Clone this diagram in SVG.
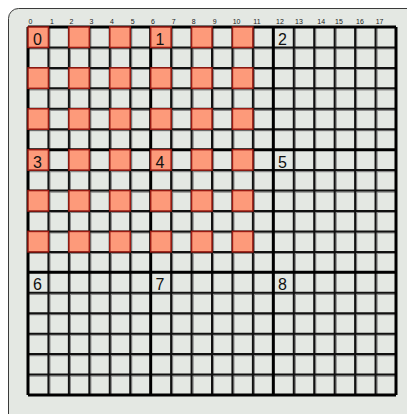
<svg xmlns="http://www.w3.org/2000/svg" width="407" height="414" viewBox="0 0 407 414">
<style>
.panel{fill:#e4e8e3;stroke:#3a3a3a;stroke-width:1}
.thin{stroke:#111;stroke-width:2;fill:none}
.thick{stroke:#000;stroke-width:3;fill:none}
.shadow{stroke:#8a8a8a;stroke-width:1.2;fill:none}
.hot{fill:#fd9a7a;stroke:#9a1a12;stroke-width:1.5}
.blabel{font-family:"Liberation Sans",Arial,sans-serif;font-size:16px;fill:#111}
.clabel{font-family:"Liberation Sans",Arial,sans-serif;font-size:7px;fill:#222}
</style>
<defs>
<rect id="cell" class="hot" width="20.44" height="20.44"/>
</defs>
<rect x="0" y="0" width="407" height="414" fill="#ffffff"/>
<rect class="panel" x="8.5" y="8.5" width="430" height="430" rx="10"/>
<g id="column-labels">
<text class="clabel" x="28.5" y="24">0</text>
<text class="clabel" x="50" y="24">1</text>
<text class="clabel" x="69.5" y="24">2</text>
<text class="clabel" x="89.5" y="24">3</text>
<text class="clabel" x="110" y="24">4</text>
<text class="clabel" x="130.7" y="24">5</text>
<text class="clabel" x="151" y="24">6</text>
<text class="clabel" x="171.7" y="24">7</text>
<text class="clabel" x="191.7" y="24">8</text>
<text class="clabel" x="212.7" y="24">9</text>
<text class="clabel" x="232.7" y="24">10</text>
<text class="clabel" x="253.3" y="24">11</text>
<text class="clabel" x="276" y="24">12</text>
<text class="clabel" x="295" y="24">13</text>
<text class="clabel" x="317.3" y="24">14</text>
<text class="clabel" x="335" y="24">15</text>
<text class="clabel" x="356" y="24">16</text>
<text class="clabel" x="375.7" y="24">17</text>
</g>
<g id="connectors">
<g id="grid-shadow" class="shadow">
<path d="M49.9 27V395M70.4 27V395M90.8 27V395M111.3 27V395M131.7 27V395M172.6 27V395M193.1 27V395M213.5 27V395M233.9 27V395M254.4 27V395M295.3 27V395M315.7 27V395M336.2 27V395M356.6 27V395M377.1 27V395"/>
<path d="M28 48.9H396M28 69.4H396M28 89.8H396M28 110.3H396M28 130.7H396M28 171.6H396M28 192.1H396M28 212.5H396M28 232.9H396M28 253.4H396M28 294.3H396M28 314.7H396M28 335.2H396M28 355.6H396M28 376.1H396"/>
</g>
<g id="grid-thin" class="thin">
<path d="M48.44 27V395M68.89 27V395M89.33 27V395M109.78 27V395M130.22 27V395M171.11 27V395M191.56 27V395M212 27V395M232.44 27V395M252.89 27V395M293.78 27V395M314.22 27V395M334.67 27V395M355.11 27V395M375.56 27V395"/>
<path d="M28 47.44H396M28 67.89H396M28 88.33H396M28 108.78H396M28 129.22H396M28 170.11H396M28 190.56H396M28 211H396M28 231.44H396M28 251.89H396M28 292.78H396M28 313.22H396M28 333.67H396M28 354.11H396M28 374.56H396"/>
</g>
<g id="grid-thick" class="thick">
<path d="M28 27V395M150.67 27V395M273.33 27V395M396 27V395"/>
<path d="M28 27H396M28 149.67H396M28 272.33H396M28 395H396"/>
</g>
</g>
<g id="block-0">
<use href="#cell" x="28" y="27"/><use href="#cell" x="68.89" y="27"/><use href="#cell" x="109.78" y="27"/>
<use href="#cell" x="28" y="67.89"/><use href="#cell" x="68.89" y="67.89"/><use href="#cell" x="109.78" y="67.89"/>
<use href="#cell" x="28" y="108.78"/><use href="#cell" x="68.89" y="108.78"/><use href="#cell" x="109.78" y="108.78"/>
<text class="blabel" x="33" y="45">0</text>
</g>
<g id="block-1">
<use href="#cell" x="150.67" y="27"/><use href="#cell" x="191.56" y="27"/><use href="#cell" x="232.44" y="27"/>
<use href="#cell" x="150.67" y="67.89"/><use href="#cell" x="191.56" y="67.89"/><use href="#cell" x="232.44" y="67.89"/>
<use href="#cell" x="150.67" y="108.78"/><use href="#cell" x="191.56" y="108.78"/><use href="#cell" x="232.44" y="108.78"/>
<text class="blabel" x="155.5" y="45">1</text>
</g>
<g id="block-2">
<text class="blabel" x="278" y="45">2</text>
</g>
<g id="block-3">
<use href="#cell" x="28" y="149.67"/><use href="#cell" x="68.89" y="149.67"/><use href="#cell" x="109.78" y="149.67"/>
<use href="#cell" x="28" y="190.56"/><use href="#cell" x="68.89" y="190.56"/><use href="#cell" x="109.78" y="190.56"/>
<use href="#cell" x="28" y="231.44"/><use href="#cell" x="68.89" y="231.44"/><use href="#cell" x="109.78" y="231.44"/>
<text class="blabel" x="33" y="167.5">3</text>
</g>
<g id="block-4">
<use href="#cell" x="150.67" y="149.67"/><use href="#cell" x="191.56" y="149.67"/><use href="#cell" x="232.44" y="149.67"/>
<use href="#cell" x="150.67" y="190.56"/><use href="#cell" x="191.56" y="190.56"/><use href="#cell" x="232.44" y="190.56"/>
<use href="#cell" x="150.67" y="231.44"/><use href="#cell" x="191.56" y="231.44"/><use href="#cell" x="232.44" y="231.44"/>
<text class="blabel" x="155.5" y="167.5">4</text>
</g>
<g id="block-5">
<text class="blabel" x="278" y="167.5">5</text>
</g>
<g id="block-6">
<text class="blabel" x="33" y="290">6</text>
</g>
<g id="block-7">
<text class="blabel" x="155.5" y="290">7</text>
</g>
<g id="block-8">
<text class="blabel" x="278" y="290">8</text>
</g>
</svg>
